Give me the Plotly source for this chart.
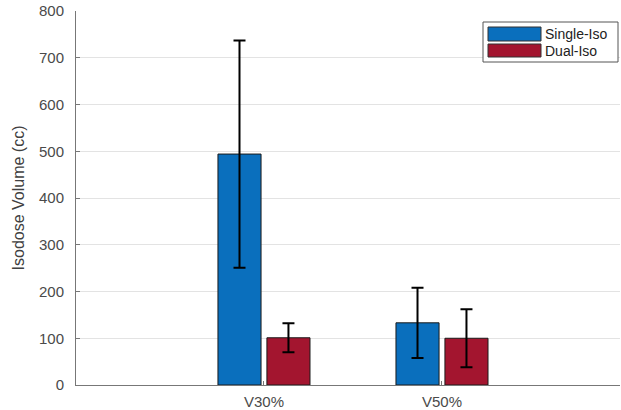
import plotly.graph_objects as go

categories = ["V30%", "V50%"]
single_iso = [494, 133]
single_err = [243, 75]
dual_iso = [101, 100]
dual_err = [31, 62]
series_names = ["Single-Iso", "Dual-Iso"]
y_ticks = [0, 100, 200, 300, 400, 500, 600, 700, 800]

BLUE = "#0a6fbd"
RED = "#a3152f"

fig = go.Figure()
fig.add_trace(go.Bar(
    x=categories, y=single_iso, name=series_names[0],
    marker=dict(color=BLUE, line=dict(color="#1a1a1a", width=1)),
    error_y=dict(type="data", array=single_err, color="black", thickness=2, width=6),
    showlegend=False,
))
fig.add_trace(go.Bar(
    x=categories, y=dual_iso, name=series_names[1],
    marker=dict(color=RED, line=dict(color="#1a1a1a", width=1)),
    error_y=dict(type="data", array=dual_err, color="black", thickness=2, width=6),
    showlegend=False,
))

W, H = 621, 410
L, R, T, B = 76, 620, 11, 385
pw, ph = R - L, B - T

def px(x):
    return (x - L) / pw

def py(y):
    return (B - y) / ph

shapes = [
    dict(type="rect", xref="paper", yref="paper", x0=px(483), x1=px(618), y0=py(62), y1=py(22),
         line=dict(color="#555", width=1), fillcolor="white", layer="above"),
    dict(type="rect", xref="paper", yref="paper", x0=px(488), x1=px(541), y0=py(41), y1=py(27),
         line=dict(color="#333", width=1), fillcolor=BLUE, layer="above"),
    dict(type="rect", xref="paper", yref="paper", x0=px(488), x1=px(541), y0=py(57), y1=py(44),
         line=dict(color="#333", width=1), fillcolor=RED, layer="above"),
]
annotations = [
    dict(xref="paper", yref="paper", x=px(543), y=py(34), text=series_names[0], showarrow=False,
         xanchor="left", yanchor="middle", font=dict(size=14, color="#222")),
    dict(xref="paper", yref="paper", x=px(543), y=py(51), text=series_names[1], showarrow=False,
         xanchor="left", yanchor="middle", font=dict(size=14, color="#222")),
]

fig.update_layout(
    width=W, height=H,
    margin=dict(l=L, r=W - R, t=T, b=H - B, pad=0),
    paper_bgcolor="white", plot_bgcolor="white",
    font=dict(family="Liberation Sans, Arial, sans-serif", size=15, color="#404040"),
    barmode="group", bargap=0.45, bargroupgap=0.12,
    shapes=shapes, annotations=annotations,
    showlegend=False,
)
fig.update_xaxes(
    range=[-1.056, 2.0], showgrid=False, showline=True, linecolor="#777", linewidth=1,
    ticks="inside", ticklen=4, tickcolor="#777", tickfont=dict(size=15, color="#4a4a4a"),
    ticklabelstandoff=3, zeroline=False,
)
fig.update_yaxes(
    range=[0, 800], tickvals=y_ticks, showgrid=True, gridcolor="#e3e3e3", gridwidth=1,
    showline=True, linecolor="#777", linewidth=1, ticks="inside", ticklen=4, tickcolor="#777",
    ticklabelstandoff=8, tickfont=dict(size=15, color="#4a4a4a"), zeroline=False,
    title=dict(text="Isodose Volume (cc)", font=dict(size=16, color="#404040"), standoff=10),
)

fig.write_html(
    "out.html",
    config={"displayModeBar": False},
    post_script="document.body.style.margin='0';document.body.style.overflow='hidden';",
)
